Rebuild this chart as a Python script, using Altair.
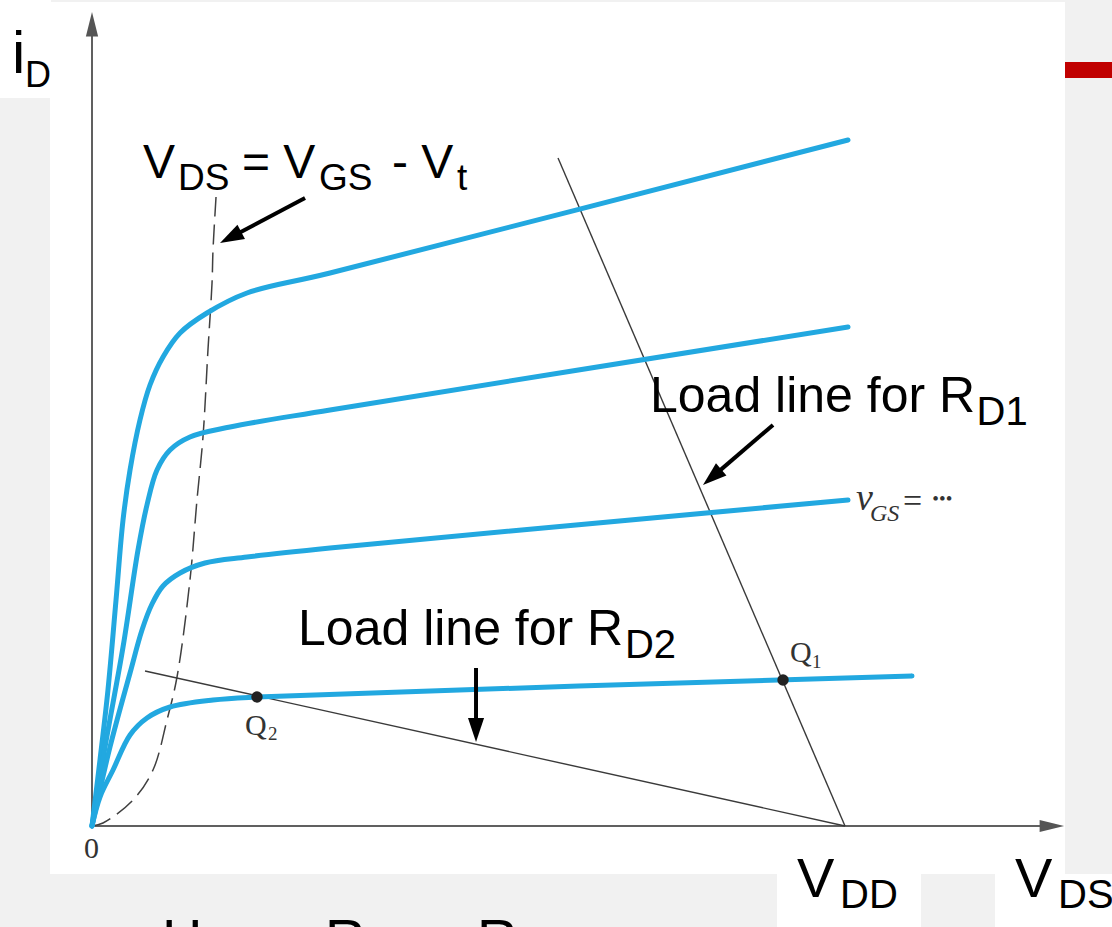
import math
import altair as alt
import pandas as pd

# ---- axis frame: V_DS in volts (V_DD = 10 V), i_D in mA -------------------
X_DOMAIN = [0, 10]
X_RANGE = [92, 845]
Y_DOMAIN = [0, 7]
Y_RANGE = [826, 126]
PX_PER_V = (X_RANGE[1] - X_RANGE[0]) / (X_DOMAIN[1] - X_DOMAIN[0])
PX_PER_MA = (Y_RANGE[0] - Y_RANGE[1]) / (Y_DOMAIN[1] - Y_DOMAIN[0])

BLUE = "#22a8e0"
W, H = 1112, 927

# ---- output characteristics i_D(v_DS), one list per v_GS step -------------
vds_1 = [0, 0.106, 0.212, 0.319, 0.412, 0.505, 0.637, 0.770, 0.943, 1.169, 1.527, 2.058, 3.161, 10.04]
id_1 = [0, 0.66, 1.36, 2.26, 3.06, 3.56, 4.06, 4.41, 4.69, 4.93, 5.13, 5.33, 5.53, 6.86]

vds_2 = [0, 0.173, 0.412, 0.611, 0.730, 0.863, 1.036, 1.301, 1.833, 3.161, 10.04]
id_2 = [0, 0.79, 1.79, 2.76, 3.21, 3.56, 3.76, 3.89, 3.99, 4.16, 4.99]

vds_3 = [0, 0.239, 0.505, 0.664, 0.797, 0.943, 1.169, 1.500, 2.058, 3.161, 10.04]
id_3 = [0, 0.79, 1.53, 1.96, 2.22, 2.40, 2.53, 2.63, 2.69, 2.78, 3.26]

vds_4 = [0, 0.106, 0.279, 0.505, 0.730, 1.036, 1.607, 2.191, 10.89]
id_4 = [0, 0.29, 0.56, 0.91, 1.08, 1.19, 1.26, 1.29, 1.50]

# saturation boundary v_DS = v_GS - V_t
vds_edge = [0, 0.146, 0.544, 0.810, 0.996, 1.129, 1.301, 1.394, 1.474, 1.540, 1.594, 1.607, 1.647]
id_edge = [0, 0.03, 0.26, 0.56, 1.06, 1.49, 2.46, 3.26, 3.89, 4.76, 5.43, 5.76, 6.29]

# load lines (both end at V_DD on the v_DS axis)
vds_rd1 = [6.189, 10.0]
id_rd1 = [6.68, 0.0]
vds_rd2 = [0.704, 10.0]
id_rd2 = [1.55, 0.0]

# operating points
q_names = ["Q1", "Q2"]
q_vds = [9.177, 2.191]
q_id = [1.46, 1.29]

# ---- tables ---------------------------------------------------------------
def curve_table(name, xs, ys):
    return pd.DataFrame({"curve": name, "i": range(len(xs)), "vds": xs, "id": ys})

blue_df = pd.concat([
    curve_table("c1", vds_1, id_1),
    curve_table("c2", vds_2, id_2),
    curve_table("c3", vds_3, id_3),
    curve_table("c4", vds_4, id_4),
])
edge_df = curve_table("edge", vds_edge, id_edge)
load_df = pd.concat([
    curve_table("rd1", vds_rd1, id_rd1),
    curve_table("rd2", vds_rd2, id_rd2),
])
q_df = pd.DataFrame({"name": q_names, "vds": q_vds, "id": q_id})

xs = alt.Scale(domain=X_DOMAIN, range=X_RANGE, nice=False, zero=False)
ys = alt.Scale(domain=Y_DOMAIN, range=Y_RANGE, nice=False, zero=False)
X = lambda f="vds": alt.X(f"{f}:Q", scale=xs, axis=None)
Y = lambda f="id": alt.Y(f"{f}:Q", scale=ys, axis=None)

# ---- slide panels (pixel layout) -----------------------------------------
panels = pd.DataFrame({
    "x0": [50, 0, 777, 995, 1065],
    "x1": [1065, 51, 921, 1112, 1112],
    "y0": [2, 0, 874, 874, 62],
    "y1": [874, 98, 927, 927, 78],
    "fill": ["#ffffff", "#ffffff", "#ffffff", "#ffffff", "#c00000"],
})
panel_layer = alt.Chart(panels).mark_rect().encode(
    x=alt.X("x0:Q", scale=None), x2="x1:Q",
    y=alt.Y("y0:Q", scale=None), y2="y1:Q",
    color=alt.Color("fill:N", scale=None),
)

# ---- axes with arrow heads -----------------------------------------------
axes_df = pd.DataFrame({
    "x0": [0.0, 0.0], "y0": [0.0, 0.0],
    "x1": [0.0, 12.59], "y1": [7.96, 0.0],
})
axes_layer = alt.Chart(axes_df).mark_rule(color="#606060", strokeWidth=2).encode(
    x=X("x0"), y=Y("y0"), x2="x1:Q", y2="y1:Q"
)
HEAD = "M0,0L0.67,2L-0.67,2Z"
AXHEAD = "M0,0L0.5,2L-0.5,2Z"
axhead_df = pd.DataFrame({"x": [0.0, 12.91], "y": [8.14, 0.0], "ang": [0, 90]})
axhead_layer = alt.Chart(axhead_df).mark_point(
    shape=AXHEAD, filled=True, size=600, color="#555555", opacity=1
).encode(x=X("x"), y=Y("y"), angle=alt.Angle("ang:Q", scale=None))

# ---- curves ---------------------------------------------------------------
edge_layer = alt.Chart(edge_df).mark_line(
    color="#404040", strokeWidth=1.5, strokeDash=[20, 8], interpolate="catmull-rom"
).encode(x=X(), y=Y(), order="i:O")

load_layer = alt.Chart(load_df).mark_line(color="#3a3a3a", strokeWidth=1.4).encode(
    x=X(), y=Y(), detail="curve:N", order="i:O"
)

blue_layer = alt.Chart(blue_df).mark_line(
    color=BLUE, strokeWidth=5, interpolate="catmull-rom", strokeCap="round"
).encode(x=X(), y=Y(), detail="curve:N", order="i:O")

q_layer = alt.Chart(q_df).mark_point(
    shape="circle", filled=True, size=130, color="#222222", opacity=1
).encode(x=X(), y=Y())

# ---- annotation arrows (tail -> tip) --------------------------------------
arrow_tail_x = [2.829, 9.044, 5.100]
arrow_tail_y = [6.28, 4.01, 1.58]
arrow_tip_x = [1.700, 8.114, 5.100]
arrow_tip_y = [5.83, 3.41, 0.84]
HEAD_LEN = 24.0

rows, heads = [], []
for tx, ty, hx, hy in zip(arrow_tail_x, arrow_tail_y, arrow_tip_x, arrow_tip_y):
    dx = (hx - tx) * PX_PER_V
    dy = -(hy - ty) * PX_PER_MA
    L = math.hypot(dx, dy)
    ux, uy = dx / L, dy / L
    ang = math.degrees(math.atan2(ux, -uy)) % 360
    # stop the shaft inside the head so the tip stays sharp
    ex = hx - ux * HEAD_LEN * 0.6 / PX_PER_V
    ey = hy + uy * HEAD_LEN * 0.6 / PX_PER_MA
    rows.append({"x0": tx, "y0": ty, "x1": ex, "y1": ey})
    heads.append({"x": hx, "y": hy, "ang": ang})
shaft_layer = alt.Chart(pd.DataFrame(rows)).mark_rule(color="#000000", strokeWidth=4).encode(
    x=X("x0"), y=Y("y0"), x2="x1:Q", y2="y1:Q"
)
head_layer = alt.Chart(pd.DataFrame(heads)).mark_point(
    shape=HEAD, filled=True, size=HEAD_LEN ** 2, color="#000000", opacity=1
).encode(x=X("x"), y=Y("y"), angle=alt.Angle("ang:Q", scale=None))

# ---- text -----------------------------------------------------------------
sans_text = ["i", "D",
             "V", "DS", "= V", "GS", "- V", "t",
             "Load line for R", "D1",
             "Load line for R", "D2",
             "V", "DD", "V", "DS",
             "Here", "R", "D1", "R", "D2"]
sans_x = [-1.062, -0.890,
          0.677, 1.142, 1.992, 3.015, 3.984, 4.848,
          7.410, 11.747,
          2.736, 7.078,
          9.363, 9.934, 12.258, 12.829,
          0.930, 3.094, 3.652, 5.113, 5.671]
sans_y = [7.53, 7.39,
          6.48, 6.36, 6.48, 6.36, 6.48, 6.36,
          4.14, 4.01,
          1.81, 1.68,
          -0.71, -0.82, -0.71, -0.82,
          -1.32, -1.32, -1.44, -1.32, -1.44]
sans_size = [60, 36,
             48, 37, 48, 37, 48, 37,
             50, 40,
             50, 40,
             56, 40, 56, 40,
             56, 56, 40, 56, 40]
sans_df = pd.DataFrame({"t": sans_text, "x": sans_x, "y": sans_y, "s": sans_size})
sans_layer = alt.Chart(sans_df).mark_text(
    font="Liberation Sans", align="left", baseline="alphabetic", color="#000000"
).encode(x=X("x"), y=Y("y"), text="t:N", size=alt.Size("s:Q", scale=None))

serif_text = ["Q", "1", "Q", "2", "0", "=", "\u2022\u2022\u2022"]
serif_x = [9.270, 9.562, 2.032, 2.337, -0.106, 10.770, 11.16]
serif_y = [1.64, 1.58, 0.91, 0.86, -0.32, 3.14, 3.215]
serif_size = [30, 19, 30, 19, 30, 34, 19]
serif_df = pd.DataFrame({"t": serif_text, "x": serif_x, "y": serif_y, "s": serif_size})
serif_layer = alt.Chart(serif_df).mark_text(
    font="Liberation Serif", align="left", baseline="alphabetic", color="#333333"
).encode(x=X("x"), y=Y("y"), text="t:N", size=alt.Size("s:Q", scale=None))

ital_text = ["v", "GS"]
ital_x = [10.146, 10.331]
ital_y = [3.16, 3.05]
ital_size = [38, 24]
ital_df = pd.DataFrame({"t": ital_text, "x": ital_x, "y": ital_y, "s": ital_size})
ital_layer = alt.Chart(ital_df).mark_text(
    font="Liberation Serif", fontStyle="italic", align="left", baseline="alphabetic",
    color="#333333"
).encode(x=X("x"), y=Y("y"), text="t:N", size=alt.Size("s:Q", scale=None))

chart = alt.layer(
    panel_layer, axes_layer, axhead_layer, edge_layer, load_layer, blue_layer,
    q_layer, shaft_layer, head_layer, sans_layer, serif_layer, ital_layer,
).properties(
    width=W, height=H, padding=0,
    autosize=alt.AutoSizeParams(type="none"),
).configure(background="#f1f1f1").configure_view(stroke=None)

chart.save("out.html", embed_options={"renderer": "svg", "actions": False})
